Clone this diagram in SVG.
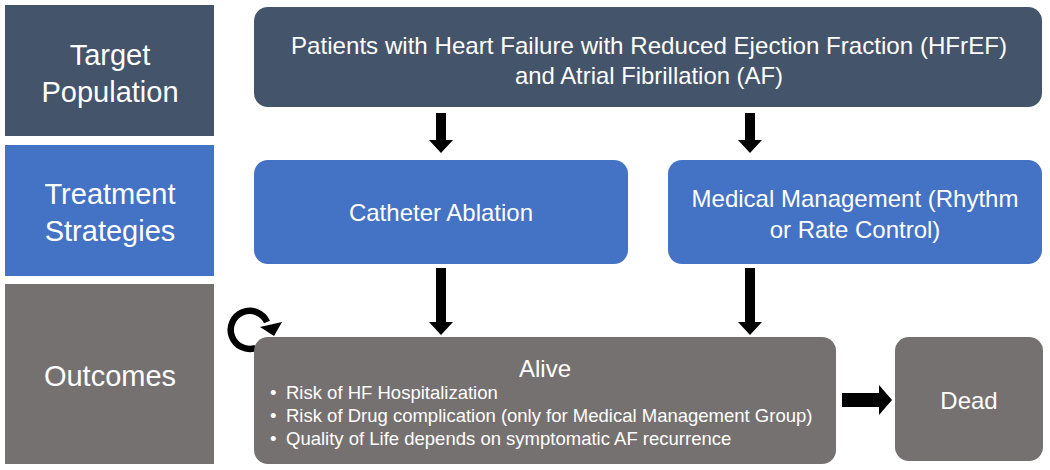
<svg xmlns="http://www.w3.org/2000/svg" width="1050" height="470" viewBox="0 0 1050 470">
<defs>
<style>
text{font-family:"Liberation Sans",Arial,sans-serif;fill:#fff}
.lab{font-size:29px;text-anchor:middle}
.t24{font-size:24px;text-anchor:middle}
.b{font-size:18.5px}
.navy{fill:#44546A}
.blue{fill:#4472C4}
.gray{fill:#767171}
.arr{fill:#000}
</style>
</defs>
<rect width="1050" height="470" fill="#fff"/>
<g id="connectors">
<path class="arr" d="M436 113h10v27h7l-12 13l-12-13h7z"/>
<path class="arr" d="M745 113h10v27h7l-12 13l-12-13h7z"/>
<path class="arr" d="M436 268h10v54h7l-12 13l-12-13h7z"/>
<path class="arr" d="M745 268h10v54h7l-12 13l-12-13h7z"/>
<path class="arr" d="M842 393h37v-8l13 15l-13 15v-8h-37z"/>
<path d="M255.5 348A19 19 0 1 1 267 322" fill="none" stroke="#000" stroke-width="6.5"/>
<path class="arr" d="M260 327l22-5l-8 14z"/>
</g>
<g id="label-target"><rect class="navy" x="5" y="5" width="209" height="131"/><text class="lab" x="110" y="65">Target</text><text class="lab" x="110" y="102">Population</text></g>
<g id="label-treatment"><rect class="blue" x="5" y="145" width="209" height="131"/><text class="lab" x="110" y="204">Treatment</text><text class="lab" x="110" y="241">Strategies</text></g>
<g id="label-outcomes"><rect class="gray" x="5" y="284" width="209" height="180"/><text class="lab" x="110" y="386">Outcomes</text></g>
<g id="population"><rect class="navy" x="254" y="7" width="788" height="100" rx="14"/><text class="t24" x="649" y="54" textLength="716" lengthAdjust="spacingAndGlyphs">Patients with Heart Failure with Reduced Ejection Fraction (HFrEF)</text><text class="t24" x="649" y="84" textLength="268" lengthAdjust="spacingAndGlyphs">and Atrial Fibrillation (AF)</text></g>
<g id="ablation"><rect class="blue" x="254" y="160" width="374" height="104" rx="14"/><text class="t24" x="441" y="221">Catheter Ablation</text></g>
<g id="medical"><rect class="blue" x="668" y="160" width="374" height="104" rx="14"/><text class="t24" x="855" y="207">Medical Management (Rhythm</text><text class="t24" x="855" y="238">or Rate Control)</text></g>
<g id="alive"><rect class="gray" x="254" y="337" width="582" height="127" rx="14"/><text class="t24" x="545" y="377">Alive</text>
<text class="b" x="270" y="399">•</text><text class="b" x="286" y="399">Risk of HF Hospitalization</text>
<text class="b" x="270" y="422">•</text><text class="b" x="286" y="422">Risk of Drug complication (only for Medical Management Group)</text>
<text class="b" x="270" y="445">•</text><text class="b" x="286" y="445">Quality of Life depends on symptomatic AF recurrence</text></g>
<g id="dead"><rect class="gray" x="895" y="337" width="148" height="124" rx="14"/><text class="t24" x="969" y="409">Dead</text></g>
</svg>
